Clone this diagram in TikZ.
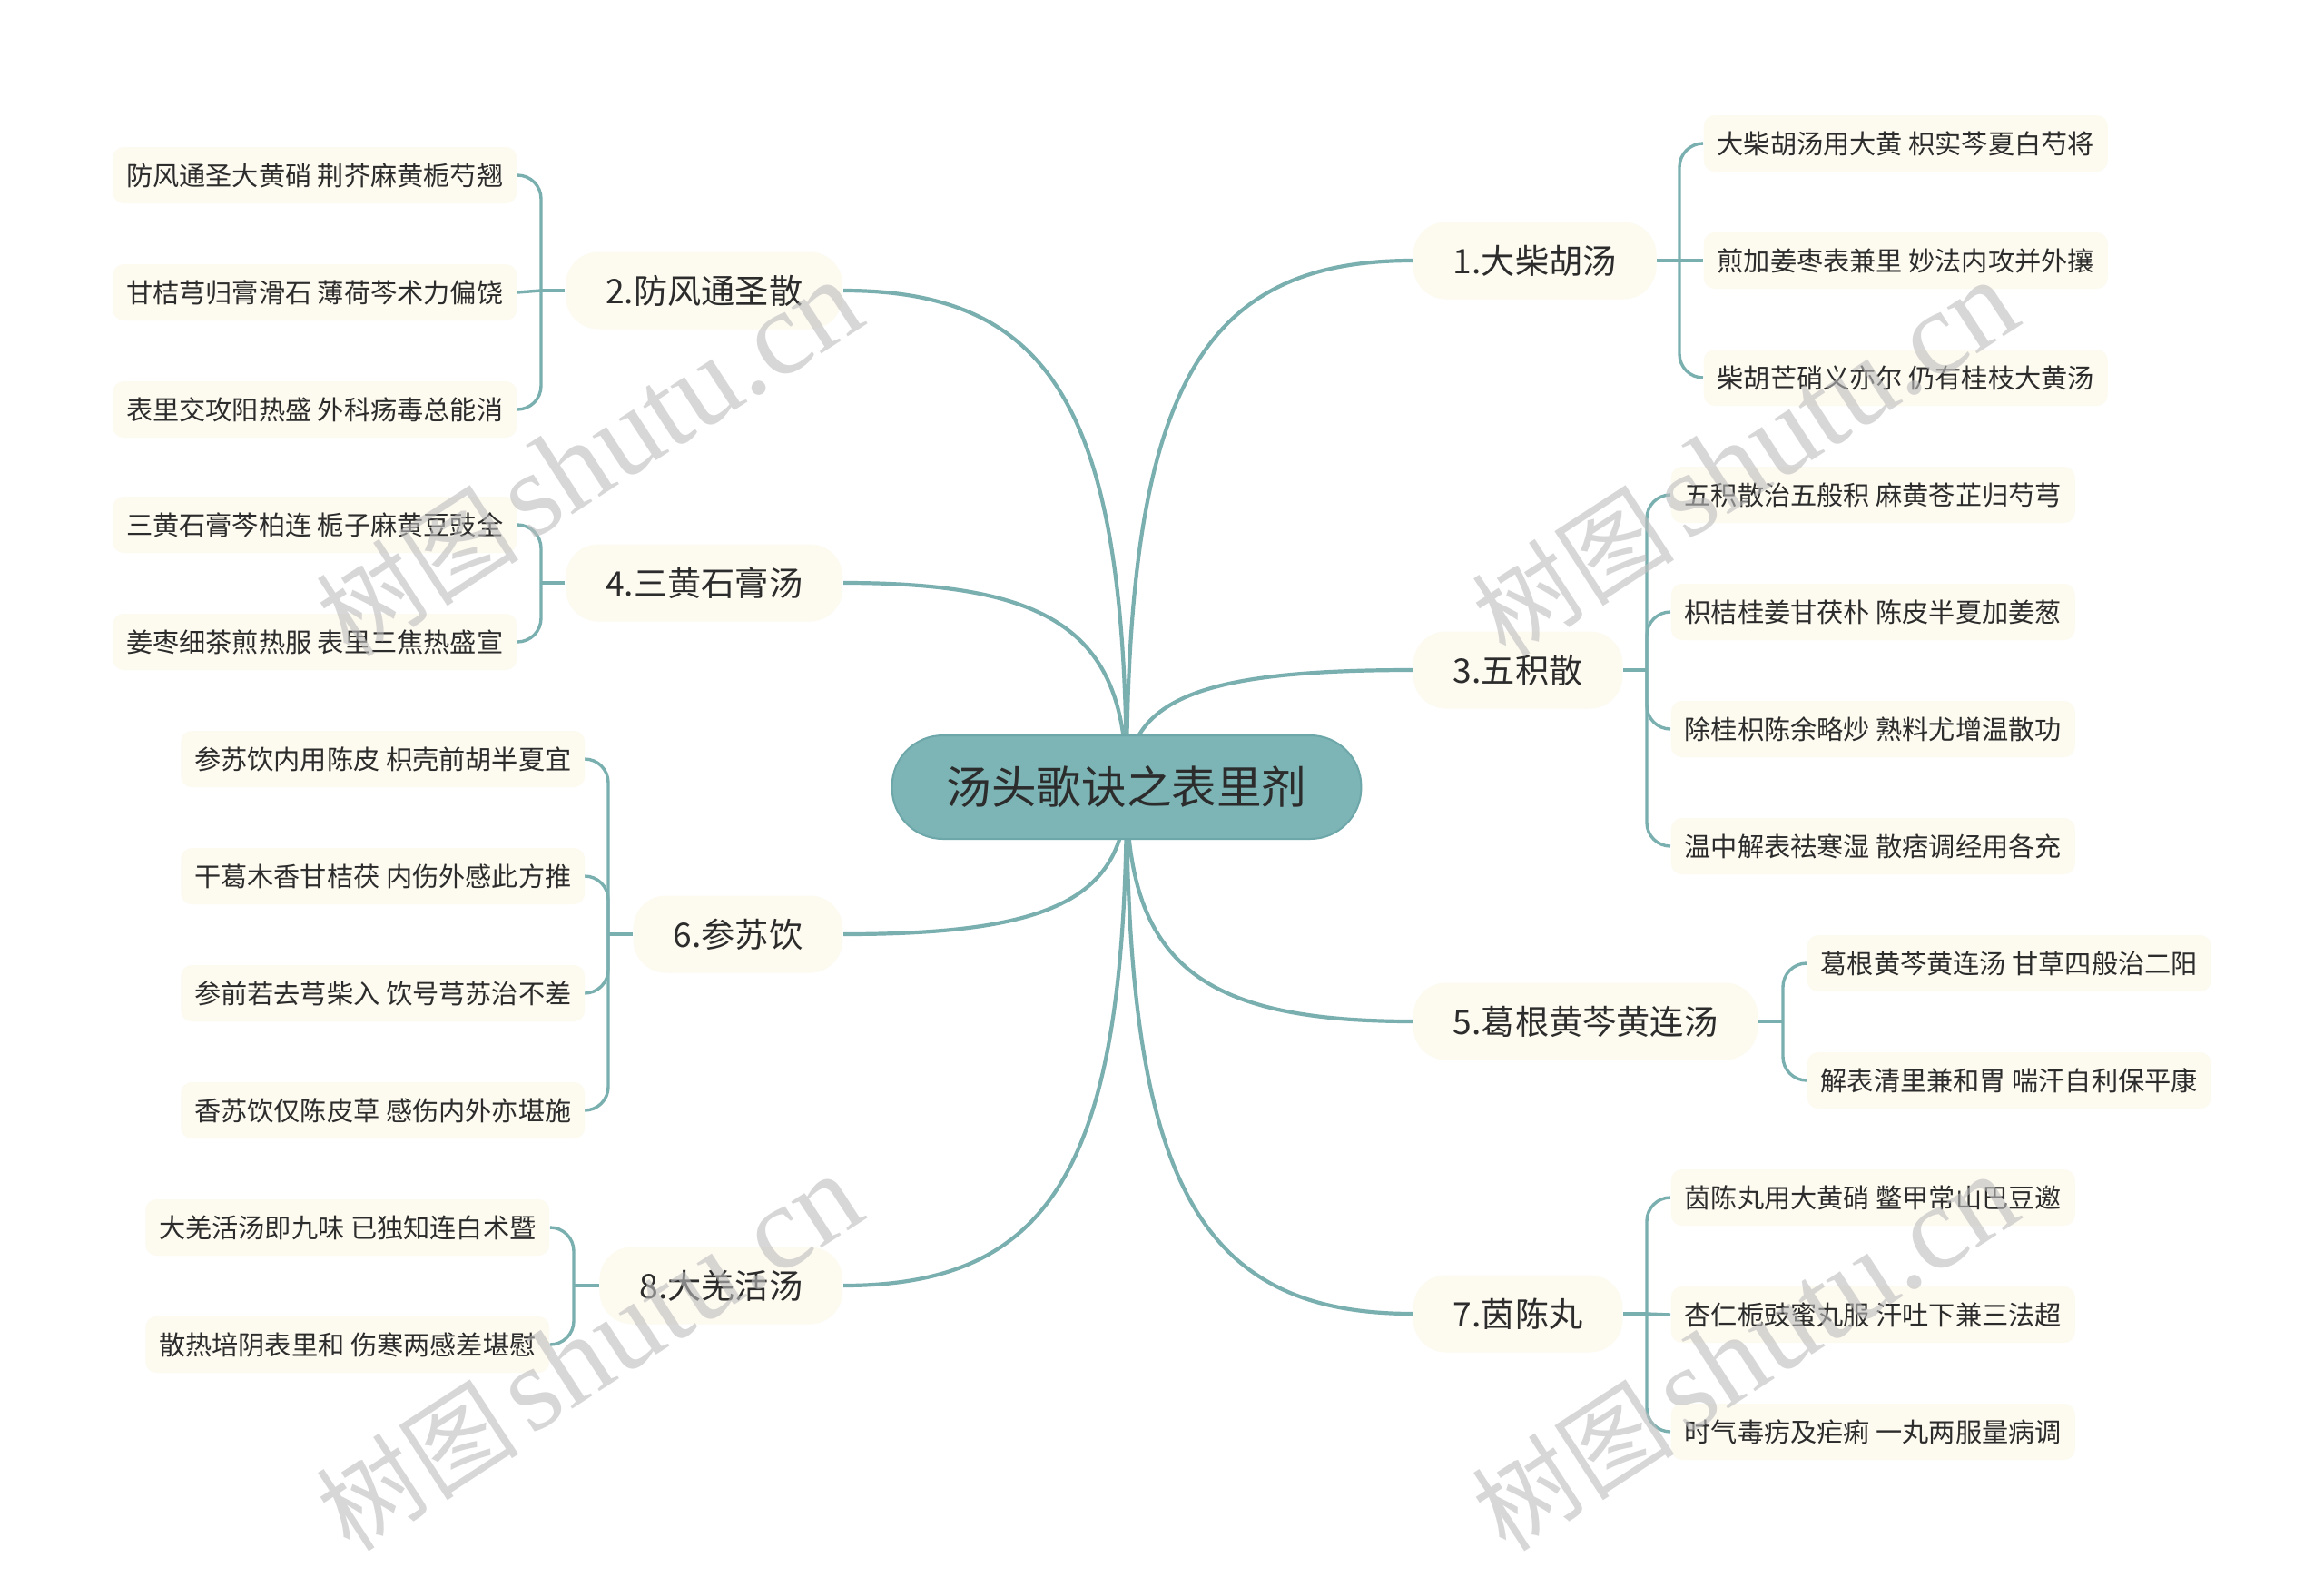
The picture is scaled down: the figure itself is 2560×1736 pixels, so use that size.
\documentclass[tikz,border=0pt]{standalone}
\usepackage{fontspec}
\newfontfamily\cjk{Noto Sans CJK SC}
\newfontfamily\wmserif{Liberation Serif}
\usetikzlibrary{backgrounds}
\definecolor{lnteal}{HTML}{7AAFB0}
\definecolor{rootfill}{HTML}{7DB4B5}
\definecolor{rootdraw}{HTML}{6DA7A9}
\definecolor{cream}{HTML}{FDFAEF}
\definecolor{txt}{HTML}{2C2C2C}
\definecolor{wm}{HTML}{BDBDBD}
\begin{document}
\begin{tikzpicture}[x=0.25pt,y=-0.25pt,
 rootbox/.style={draw=rootdraw, line width=0.5pt, fill=rootfill, rounded corners=14pt, minimum height=28.5pt, inner xsep=15pt, inner ysep=0pt, font=\cjk\fontsize{12.4pt}{14pt}\selectfont, text=txt},
 topic/.style={fill=cream, rounded corners=9pt, minimum height=21.25pt, inner xsep=11pt, inner ysep=0pt, font=\cjk\fontsize{9.3pt}{11pt}\selectfont, text=txt},
 leaf/.style={fill=cream, rounded corners=3pt, minimum height=15.5pt, inner xsep=3.7pt, inner ysep=0pt, font=\cjk\fontsize{7.3pt}{9pt}\selectfont, text=txt},
 mainline/.style={draw=lnteal, line width=1.05pt},
 subline/.style={draw=lnteal, line width=0.85pt, rounded corners=6.5pt},
 wmark/.style={text=wm, text opacity=0.6, rotate=33, inner sep=0pt}
]
\useasboundingbox (0,0) rectangle (2560,1736);

% root
\node[rootbox] (root) at (1241,867) {汤头歌诀之表里剂};

% topics right
\node[topic, anchor=west] (t1) at (1556,287) {1.大柴胡汤};
\node[topic, anchor=west] (t3) at (1556,738) {3.五积散};
\node[topic, anchor=west] (t5) at (1556,1125) {5.葛根黄芩黄连汤};
\node[topic, anchor=west] (t7) at (1556,1447) {7.茵陈丸};
% topics left
\node[topic, anchor=east] (t2) at (929,320) {2.防风通圣散};
\node[topic, anchor=east] (t4) at (929,642) {4.三黄石膏汤};
\node[topic, anchor=east] (t6) at (929,1029) {6.参苏饮};
\node[topic, anchor=east] (t8) at (929,1416) {8.大羌活汤};

% leaves group 1
\node[leaf, anchor=west] (l11) at (1876,158) {大柴胡汤用大黄 枳实芩夏白芍将};
\node[leaf, anchor=west] (l12) at (1876,287) {煎加姜枣表兼里 妙法内攻并外攘};
\node[leaf, anchor=west] (l13) at (1876,416) {柴胡芒硝义亦尔 仍有桂枝大黄汤};
% group 3
\node[leaf, anchor=west] (l31) at (1840,545) {五积散治五般积 麻黄苍芷归芍芎};
\node[leaf, anchor=west] (l32) at (1840,674) {枳桔桂姜甘茯朴 陈皮半夏加姜葱};
\node[leaf, anchor=west] (l33) at (1840,803) {除桂枳陈余略炒 熟料尤增温散功};
\node[leaf, anchor=west] (l34) at (1840,932) {温中解表祛寒湿 散痞调经用各充};
% group 5
\node[leaf, anchor=west] (l51) at (1990,1061) {葛根黄芩黄连汤 甘草四般治二阳};
\node[leaf, anchor=west] (l52) at (1990,1190) {解表清里兼和胃 喘汗自利保平康};
% group 7
\node[leaf, anchor=west] (l71) at (1840,1319) {茵陈丸用大黄硝 鳖甲常山巴豆邀};
\node[leaf, anchor=west] (l72) at (1840,1448) {杏仁栀豉蜜丸服 汗吐下兼三法超};
\node[leaf, anchor=west] (l73) at (1840,1577) {时气毒疠及疟痢 一丸两服量病调};
% group 2
\node[leaf, anchor=east] (l21) at (570,193) {防风通圣大黄硝 荆芥麻黄栀芍翘};
\node[leaf, anchor=east] (l22) at (570,322) {甘桔芎归膏滑石 薄荷芩术力偏饶};
\node[leaf, anchor=east] (l23) at (570,451) {表里交攻阳热盛 外科疡毒总能消};
% group 4
\node[leaf, anchor=east] (l41) at (570,578) {三黄石膏芩柏连 栀子麻黄豆豉全};
\node[leaf, anchor=east] (l42) at (570,707) {姜枣细茶煎热服 表里三焦热盛宣};
% group 6
\node[leaf, anchor=east] (l61) at (645,836) {参苏饮内用陈皮 枳壳前胡半夏宜};
\node[leaf, anchor=east] (l62) at (645,965) {干葛木香甘桔茯 内伤外感此方推};
\node[leaf, anchor=east] (l63) at (645,1094) {参前若去芎柴入 饮号芎苏治不差};
\node[leaf, anchor=east] (l64) at (645,1223) {香苏饮仅陈皮草 感伤内外亦堪施};
% group 8
\node[leaf, anchor=east] (l81) at (606,1352) {大羌活汤即九味 已独知连白术暨};
\node[leaf, anchor=east] (l82) at (606,1481) {散热培阴表里和 伤寒两感差堪慰};

% junctions
\coordinate (j1) at (1850,287);
\coordinate (j3) at (1814,738);
\coordinate (j5) at (1964,1125);
\coordinate (j7) at (1814,1447);
\coordinate (j2) at (596,320);
\coordinate (j4) at (596,642);
\coordinate (j6) at (670,1029);
\coordinate (j8) at (632,1416);

\begin{scope}[on background layer]
\fill[white] (0,0) rectangle (2560,1736);
% main connectors
\draw[mainline] (root.center) .. controls (1241,432) and (1320,287) .. (t1.west);
\draw[mainline] (root.center) .. controls (1241,770) and (1320,738) .. (t3.west);
\draw[mainline] (root.center) .. controls (1241,1060) and (1320,1125) .. (t5.west);
\draw[mainline] (root.center) .. controls (1241,1302) and (1320,1447) .. (t7.west);
\draw[mainline] (root.center) .. controls (1241,457) and (1163,320) .. (t2.east);
\draw[mainline] (root.center) .. controls (1241,698) and (1163,642) .. (t4.east);
\draw[mainline] (root.center) .. controls (1241,988) and (1163,1029) .. (t6.east);
\draw[mainline] (root.center) .. controls (1241,1279) and (1163,1416) .. (t8.east);

% group 1
\draw[subline] (t1.east) -- (j1);
\draw[subline] (j1) |- (l11.west);
\draw[subline] (j1) -- (l12.west);
\draw[subline] (j1) |- (l13.west);
% group 3
\draw[subline] (t3.east) -- (j3);
\draw[subline] (j3) |- (l31.west);
\draw[subline] (j3) |- (l32.west);
\draw[subline] (j3) |- (l33.west);
\draw[subline] (j3) |- (l34.west);
% group 5
\draw[subline] (t5.east) -- (j5);
\draw[subline] (j5) |- (l51.west);
\draw[subline] (j5) |- (l52.west);
% group 7
\draw[subline] (t7.east) -- (j7);
\draw[subline] (j7) |- (l71.west);
\draw[subline] (j7) -- (l72.west);
\draw[subline] (j7) |- (l73.west);
% group 2
\draw[subline] (t2.west) -- (j2);
\draw[subline] (j2) |- (l21.east);
\draw[subline] (j2) -- (l22.east);
\draw[subline] (j2) |- (l23.east);
% group 4
\draw[subline] (t4.west) -- (j4);
\draw[subline] (j4) |- (l41.east);
\draw[subline] (j4) |- (l42.east);
% group 6
\draw[subline] (t6.west) -- (j6);
\draw[subline] (j6) |- (l61.east);
\draw[subline] (j6) |- (l62.east);
\draw[subline] (j6) |- (l63.east);
\draw[subline] (j6) |- (l64.east);
% group 8
\draw[subline] (t8.west) -- (j8);
\draw[subline] (j8) |- (l81.east);
\draw[subline] (j8) |- (l82.east);
\end{scope}

% watermarks
\node[wmark] (w1) at (649,505) {{\cjk\fontsize{28pt}{30pt}\selectfont 树图} {\wmserif\fontsize{33pt}{36pt}\selectfont shutu.cn}};
\node[wmark] (w2) at (1922,505) {{\cjk\fontsize{28pt}{30pt}\selectfont 树图} {\wmserif\fontsize{33pt}{36pt}\selectfont shutu.cn}};
\node[wmark] (w3) at (649,1490) {{\cjk\fontsize{28pt}{30pt}\selectfont 树图} {\wmserif\fontsize{33pt}{36pt}\selectfont shutu.cn}};
\node[wmark] (w4) at (1922,1490) {{\cjk\fontsize{28pt}{30pt}\selectfont 树图} {\wmserif\fontsize{33pt}{36pt}\selectfont shutu.cn}};
\end{tikzpicture}
\end{document}
